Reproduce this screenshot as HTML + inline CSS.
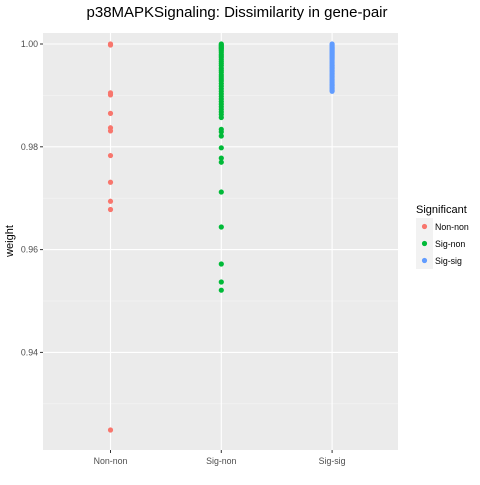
<!DOCTYPE html>
<html><head><meta charset="utf-8"><style>
html,body{margin:0;padding:0;background:#fff;}
svg text{font-family:"Liberation Sans",Arial,sans-serif;}
</style></head><body>
<svg id="chart" width="480" height="480" viewBox="0 0 480 480" xmlns="http://www.w3.org/2000/svg">
<rect width="480" height="480" fill="#fff"/>
<text x="237" y="17" font-size="15" text-anchor="middle" fill="#000">p38MAPKSignaling: Dissimilarity in gene-pair</text>
<rect x="43" y="33" width="355" height="417" fill="#ebebeb"/>
<g id="grid"></g>
<g id="points"></g>
<g id="axes"></g>
<text transform="translate(13,241) rotate(-90)" font-size="11" text-anchor="middle" fill="#000">weight</text>
<g>
<text x="416" y="213" font-size="11" fill="#000">Significant</text>
<g id="legend"></g>
</g>
</svg>
<script>
const categories = ["Non-non","Sig-non","Sig-sig"];
const colors = ["#f8766d","#00ba38","#619cff"];
const yTicks = [0.94,0.96,0.98,1.00];
const yTickLabels = ["0.94","0.96","0.98","1.00"];
const nonNon = [1.0,0.9999,0.9998,0.9905,0.9901,0.9865,0.9837,0.9831,0.9783,0.9731,0.9694,0.9678,0.9249];
const sigNon = [1.0,0.9998,0.9996,0.9994,0.9992,0.999,0.9987,0.9984,0.998,0.9977,0.9974,0.997,0.9966,0.9962,0.9958,0.9953,0.9949,0.9945,0.994,0.9936,0.9932,0.9928,0.9923,0.9918,0.9913,0.9908,0.9903,0.9898,0.9893,0.9888,0.9883,0.9878,0.9873,0.9868,0.9863,0.9857,0.9834,0.9829,0.9821,0.9798,0.9778,0.9770,0.9712,0.9644,0.9572,0.9537,0.9521];
const sigSig = [1.0,0.9998,0.9996,0.9994,0.9992,0.999,0.9988,0.9986,0.9984,0.9982,0.998,0.9978,0.9976,0.9974,0.9972,0.997,0.9967,0.9964,0.9961,0.9958,0.9955,0.9952,0.9949,0.9946,0.9943,0.994,0.9937,0.9934,0.9931,0.9928,0.9925,0.9922,0.9919,0.9916,0.9913,0.991,0.9908];
const series = [nonNon, sigNon, sigSig];
const NS="http://www.w3.org/2000/svg";
function y(v){return 44+(1.0-v)/0.02*102.8;}
function x(i){return 110.5+i*110.8;}
function mk(tag,attrs,parent){const e=document.createElementNS(NS,tag);for(const k in attrs)e.setAttribute(k,attrs[k]);parent.appendChild(e);return e;}
const grid=document.getElementById('grid'),pts=document.getElementById('points'),axes=document.getElementById('axes'),leg=document.getElementById('legend');
for(let i=0;i<yTicks.length;i++){
  const mv=yTicks[i]-0.01;
  const g=mk('line',{x1:43,x2:398,y1:y(mv),y2:y(mv),stroke:'#f5f5f5','stroke-width':0.6},grid);
  
  
}
for(let i=0;i<yTicks.length;i++){
  const yy=y(yTicks[i]);
  const g=mk('line',{x1:43,x2:398,y1:yy,y2:yy,stroke:'#fff','stroke-width':1.1},grid);
  
  
  const t=mk('line',{x1:40,x2:43,y1:yy,y2:yy,stroke:'#333','stroke-width':1},axes);
  
  
  const l=mk('text',{x:38,y:yy+3,'font-size':8.8,'text-anchor':'end',fill:'#4d4d4d'},axes);
  l.textContent=yTickLabels[i];
  
  
}
for(let i=0;i<categories.length;i++){
  const xx=x(i);
  const g=mk('line',{x1:xx,x2:xx,y1:33,y2:450,stroke:'#fff','stroke-width':1.1},grid);
  
  
  const t=mk('line',{x1:xx,x2:xx,y1:450,y2:453,stroke:'#333','stroke-width':1},axes);
  
  
  const l=mk('text',{x:xx,y:464,'font-size':8.8,'text-anchor':'middle',fill:'#4d4d4d'},axes);
  l.textContent=categories[i];
  
  
  series[i].forEach(v=>{
    const c=mk('circle',{cx:xx,cy:y(v),r:2.6,fill:colors[i]},pts);
    
    
  });
  const ky=218+i*17;
  const kb=mk('rect',{x:416,y:ky,width:17,height:17,fill:'#f2f2f2'},leg);
  
  
  const kc=mk('circle',{cx:424.5,cy:ky+8.5,r:2.6,fill:colors[i]},leg);
  
  
  const kt=mk('text',{x:435,y:ky+12,'font-size':8.8,fill:'#000'},leg);
  kt.textContent=categories[i];
  
  
}
</script>
</body></html>
